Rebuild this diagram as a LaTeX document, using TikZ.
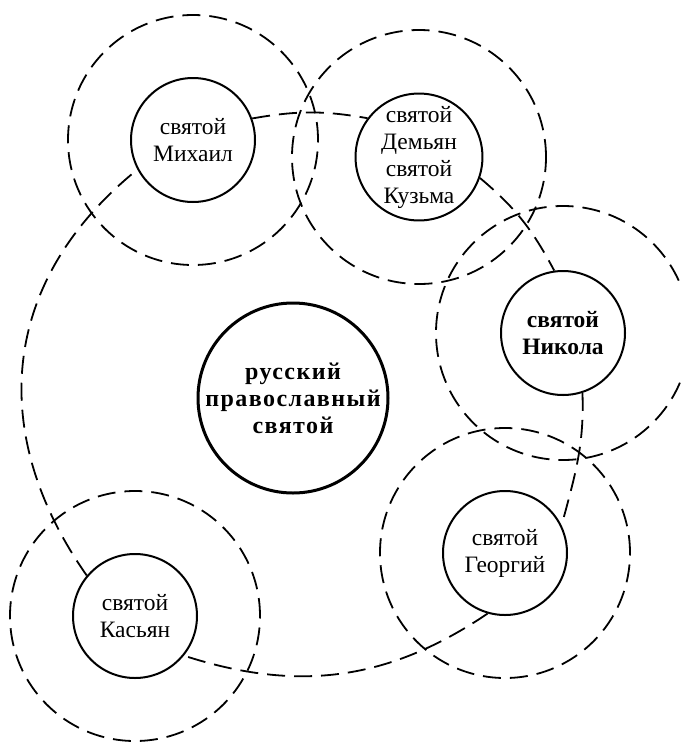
\documentclass[tikz,border=0pt]{standalone}
\usepackage{fontspec}
\setmainfont{Liberation Serif}
\newfontfamily\spacedfont[LetterSpace=6]{Liberation Serif}

\tikzset{
  saint/.style={circle, draw, line width=2pt, fill=white, minimum size=124pt,
    inner sep=0pt, align=center, font=\fontsize{23.5}{27}\selectfont},
  mainsaint/.style={saint, line width=3pt, minimum size=190pt,
    font=\spacedfont\bfseries\fontsize{24}{27}\selectfont},
  zone/.style={line width=1.8pt, dash pattern=on 18pt off 9pt},
  link/.style={zone}
}

\begin{document}
\begin{tikzpicture}[x=1pt,y=1pt]
\useasboundingbox (0,0) rectangle (681,-742);
\clip (0,0) rectangle (681,-742);

\coordinate (M) at (193,-140);
\coordinate (D) at (419,-157);
\coordinate (N) at (563,-333);
\coordinate (G) at (505,-553);
\coordinate (K) at (135,-616);
\coordinate (R) at (293,-398);

\draw[zone] (M) circle[radius=125];
\draw[zone] (D) circle[radius=127];
\draw[zone] (N) circle[radius=127];
\draw[zone] (G) circle[radius=125];
\draw[zone] (K) circle[radius=125];

\node[saint] (mikhail) at (M) {святой\\Михаил};
\node[saint] (demyan) at (D) {святой\\Демьян\\святой\\Кузьма};
\node[saint, font=\bfseries\fontsize{23.5}{27}\selectfont] (nikola) at (N) {святой\\Никола};
\node[saint] (georgiy) at (G) {святой\\Георгий};
\node[saint] (kasyan) at (K) {святой\\Касьян};
\node[mainsaint] (main) at (R) {русский\\православный\\святой};

\draw[link] (mikhail.20) to[out=10,in=170] (demyan.143);
\draw[link] (demyan.-19) to[out=-40,in=118] (nikola.98);
\draw[link] (nikola.-72) to[out=-88,in=75] (georgiy.26);
\draw[link] (georgiy.254) to[out=214,in=-18] (kasyan.-39);
\draw[link] (kasyan.140) to[out=125,in=219,looseness=1.1] (mikhail.208);
\end{tikzpicture}
\end{document}
